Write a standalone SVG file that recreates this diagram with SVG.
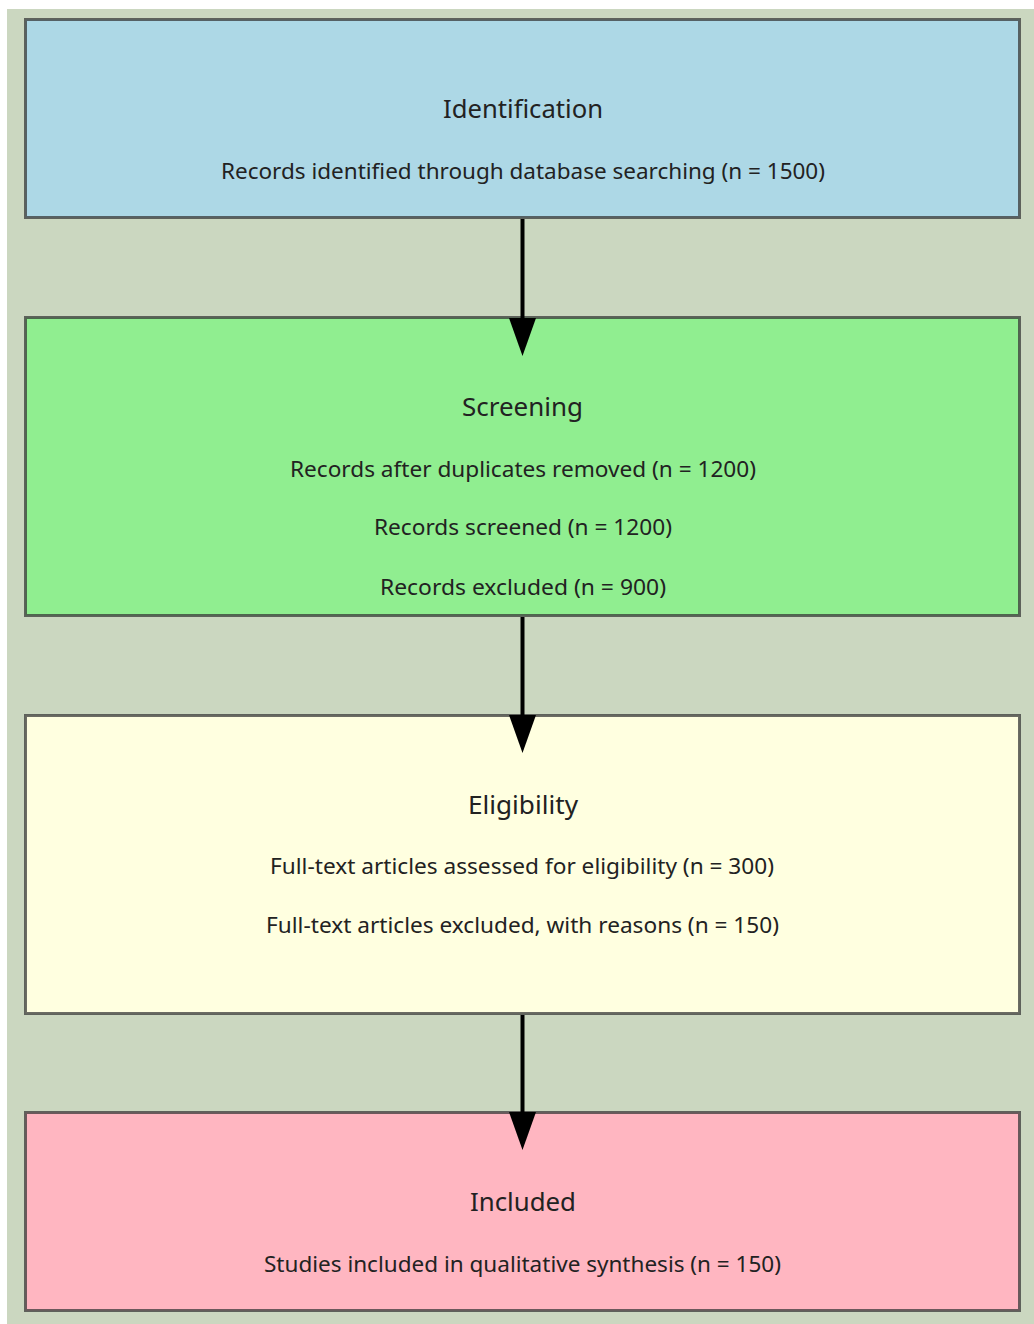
<svg xmlns="http://www.w3.org/2000/svg" width="1034" height="1324" viewBox="0 0 1034 1324">
  <style>
    .box { stroke: #333333; stroke-opacity: 0.72; stroke-width: 3; }
    .title { font-family: "Noto Sans", "Open Sans", "DejaVu Sans", sans-serif; font-size: 25px; fill: #222222; text-anchor: middle; }
    .line { font-family: "Noto Sans", "Open Sans", "DejaVu Sans", sans-serif; font-size: 21.5px; fill: #222222; text-anchor: middle; }
    .edge { stroke: #000000; stroke-width: 4; fill: none; }
    .head { fill: #000000; }
  </style>
  <rect x="0" y="0" width="1034" height="1324" fill="#ffffff"/>
  <rect x="7" y="9" width="1027" height="1315" fill="#cbd7c0"/>

  <g id="identification">
    <rect class="box" x="25.5" y="19.5" width="994" height="198" fill="#add8e6"/>
    <text class="title" x="523" y="118" textLength="160" lengthAdjust="spacingAndGlyphs">Identification</text>
    <text class="line" x="523" y="179" textLength="604" lengthAdjust="spacingAndGlyphs">Records identified through database searching (n = 1500)</text>
  </g>

  <g id="screening">
    <rect class="box" x="25.5" y="317.5" width="994" height="298" fill="#90ee90"/>
    <text class="title" x="522.5" y="416" textLength="121" lengthAdjust="spacingAndGlyphs">Screening</text>
    <text class="line" x="523" y="477" textLength="466" lengthAdjust="spacingAndGlyphs">Records after duplicates removed (n = 1200)</text>
    <text class="line" x="523" y="535" textLength="298" lengthAdjust="spacingAndGlyphs">Records screened (n = 1200)</text>
    <text class="line" x="523" y="595" textLength="286" lengthAdjust="spacingAndGlyphs">Records excluded (n = 900)</text>
  </g>

  <g id="eligibility">
    <rect class="box" x="25.5" y="715.5" width="994" height="298" fill="#ffffe0"/>
    <text class="title" x="523" y="814" textLength="110" lengthAdjust="spacingAndGlyphs">Eligibility</text>
    <text class="line" x="522" y="874" textLength="504" lengthAdjust="spacingAndGlyphs">Full-text articles assessed for eligibility (n = 300)</text>
    <text class="line" x="522.5" y="933" textLength="513" lengthAdjust="spacingAndGlyphs">Full-text articles excluded, with reasons (n = 150)</text>
  </g>

  <g id="included">
    <rect class="box" x="25.5" y="1112.5" width="994" height="198" fill="#ffb6c1"/>
    <text class="title" x="523" y="1211" textLength="106" lengthAdjust="spacingAndGlyphs">Included</text>
    <text class="line" x="522.5" y="1272" textLength="517" lengthAdjust="spacingAndGlyphs">Studies included in qualitative synthesis (n = 150)</text>
  </g>

  <g id="connectors">
    <line class="edge" x1="522.5" y1="219" x2="522.5" y2="320"/>
    <polygon class="head" points="509,318 536,318 522.5,356"/>
    <line class="edge" x1="522.5" y1="617" x2="522.5" y2="717"/>
    <polygon class="head" points="509,715 536,715 522.5,753"/>
    <line class="edge" x1="522.5" y1="1015" x2="522.5" y2="1114"/>
    <polygon class="head" points="509,1112 536,1112 522.5,1150"/>
  </g>
</svg>
